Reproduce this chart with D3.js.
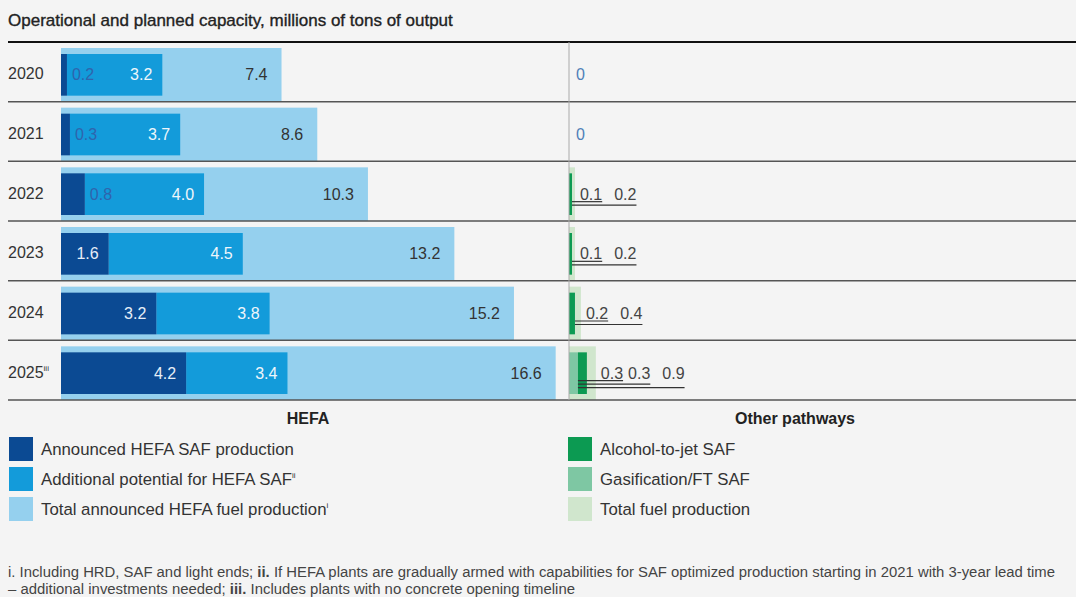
<!DOCTYPE html>
<html>
<head>
<meta charset="utf-8">
<script src="https://cdn.jsdelivr.net/npm/d3@7"></script>
<style>
  html, body { margin: 0; padding: 0; background: #f4f4f4; }
  svg { display: block; font-family: "Liberation Sans", Arial, sans-serif; }
</style>
</head>
<body>
<div id="chart"></div>
<script>
// Data
const years = ['2020', '2021', '2022', '2023', '2024', '2025'];
const yearNotes = ['', '', '', '', '', 'iii'];
const announcedSaf = [0.2, 0.3, 0.8, 1.6, 3.2, 4.2];
const additionalSaf = [3.2, 3.7, 4.0, 4.5, 3.8, 3.4];
const totalHefa = [7.4, 8.6, 10.3, 13.2, 15.2, 16.6];
const gasificationFt = [0, 0, 0, 0, 0, 0.3];
const alcoholToJet = [0, 0, 0.1, 0.1, 0.2, 0.3];
const totalOther = [0, 0, 0.2, 0.2, 0.4, 0.9];

const hefaLegend = [
    { label: 'Announced HEFA SAF production', note: '' },
    { label: 'Additional potential for HEFA SAF', note: 'ii' },
    { label: 'Total announced HEFA fuel production', note: 'i' }
];
const otherLegend = [
    { label: 'Alcohol-to-jet SAF', note: '' },
    { label: 'Gasification/FT SAF', note: '' },
    { label: 'Total fuel production', note: '' }
];

const colors = {
    dark: '#0b4a93', mid: '#139bda', light: '#95d0ee',
    green: '#0c9a52', greenMid: '#7ec7a3', greenPale: '#d0e6cd'
};

const W = 1076, H = 597;
const svg = d3.select('#chart').append('svg')
    .attr('width', W)
    .attr('height', H);

svg.append('rect').attr('width', W).attr('height', H).attr('fill', '#f4f4f4');

// Title
svg.append('text')
    .attr('x', 8).attr('y', 26)
    .attr('font-size', 17)
    .attr('fill', '#222')
    .attr('stroke', '#222').attr('stroke-width', 0.35)
    .text('Operational and planned capacity, millions of tons of output');

const rows = years.map((y, i) => ({
    year: y, note: yearNotes[i],
    announced: announcedSaf[i], additional: additionalSaf[i], total: totalHefa[i],
    gas: gasificationFt[i], alcohol: alcoholToJet[i], other: totalOther[i]
}));

const yScale = d3.scaleBand().domain(years).range([42, 400]);
const xHefa = d3.scaleLinear().domain([0, 17]).range([61, 61 + 17 * 29.8]);
const xOther = d3.scaleLinear().domain([0, 1]).range([569, 569 + 29.8]);

const g = svg.append('g');

const row = g.selectAll('.row')
    .data(rows)
    .join('g')
    .attr('class', 'row')
    .attr('transform', d => `translate(0,${yScale(d.year)})`);

const step = yScale.bandwidth();
const outerTop = 6, innerTop = 12, innerH = step - 18;
const labelY = innerTop + innerH / 2 + 5.5;
const fs = 16;

// HEFA bars
row.append('rect')
    .attr('x', xHefa(0)).attr('y', outerTop)
    .attr('width', d => xHefa(d.total) - xHefa(0))
    .attr('height', step - outerTop)
    .attr('fill', colors.light);

row.append('rect')
    .attr('x', d => xHefa(d.announced)).attr('y', innerTop)
    .attr('width', d => xHefa(d.additional) - xHefa(0))
    .attr('height', innerH)
    .attr('fill', colors.mid);

row.append('rect')
    .attr('x', xHefa(0)).attr('y', innerTop)
    .attr('width', d => xHefa(d.announced) - xHefa(0))
    .attr('height', innerH)
    .attr('fill', colors.dark);

// HEFA labels
row.append('text')
    .attr('font-size', fs)
    .attr('y', labelY)
    .each(function(d) {
        const w = xHefa(d.announced) - xHefa(0);
        const t = d3.select(this).text(d.announced.toFixed(1));
        if (w > 40) {
            t.attr('x', xHefa(d.announced) - 10).attr('text-anchor', 'end').attr('fill', '#e6eef7');
        } else {
            t.attr('x', xHefa(d.announced) + 5).attr('fill', '#2f64ad');
        }
    });

row.append('text')
    .attr('font-size', fs)
    .attr('y', labelY)
    .attr('x', d => xHefa(d.announced + d.additional) - 10)
    .attr('text-anchor', 'end')
    .attr('fill', '#eef6fb')
    .text(d => d.additional.toFixed(1));

row.append('text')
    .attr('font-size', fs)
    .attr('y', labelY)
    .attr('x', d => xHefa(d.total) - 14)
    .attr('text-anchor', 'end')
    .attr('fill', '#333')
    .text(d => d.total.toFixed(1));

// Year labels
const yl = row.append('text')
    .attr('x', 8).attr('y', labelY - 1)
    .attr('font-size', fs)
    .attr('fill', '#333')
    .text(d => d.year);
yl.append('tspan')
    .attr('font-size', 8).attr('dy', -7)
    .text(d => d.note);

// Other pathway bars
row.append('rect')
    .attr('x', xOther(0)).attr('y', outerTop)
    .attr('width', d => xOther(d.other) - xOther(0))
    .attr('height', step - outerTop)
    .attr('fill', colors.greenPale);

row.append('rect')
    .attr('x', xOther(0)).attr('y', innerTop)
    .attr('width', d => xOther(d.gas) - xOther(0))
    .attr('height', innerH)
    .attr('fill', colors.greenMid);

row.append('rect')
    .attr('x', d => xOther(d.gas)).attr('y', innerTop)
    .attr('width', d => xOther(d.alcohol) - xOther(0))
    .attr('height', innerH)
    .attr('fill', colors.green);

// Other pathway labels with underline leaders
row.each(function(d) {
    const r = d3.select(this);
    if (d.other === 0) {
        r.append('text')
            .attr('x', xOther(0) + 7).attr('y', labelY)
            .attr('font-size', fs).attr('fill', '#4f7fb8')
            .text('0');
        return;
    }
    const vals = [d.gas, d.alcohol, d.other].filter(v => v > 0);
    const firstEnd = xOther(d.gas > 0 ? d.gas : d.alcohol);
    let x = xOther(d.other) + 5;
    vals.forEach((v, i) => {
        const t = r.append('text')
            .attr('x', x).attr('y', labelY)
            .attr('font-size', fs).attr('fill', '#444')
            .text(v.toFixed(1));
        const w = t.node().getComputedTextLength();
        const ly = labelY + 2 + i * 3.5;
        r.append('line')
            .attr('x1', firstEnd).attr('x2', x + w)
            .attr('y1', ly).attr('y2', ly)
            .attr('stroke', '#333').attr('stroke-width', 1.2);
        x += w + (vals.length === 3 && i === 0 ? 5 : 12);
    });
});

// Gridlines
g.append('line')
    .attr('x1', 8).attr('x2', W).attr('y1', 42).attr('y2', 42)
    .attr('stroke', '#111').attr('stroke-width', 2);

g.selectAll('.sep')
    .data(years)
    .join('line')
    .attr('class', 'sep')
    .attr('x1', 8).attr('x2', W)
    .attr('y1', d => yScale(d) + step).attr('y2', d => yScale(d) + step)
    .attr('stroke', '#555').attr('stroke-width', 1.5);

g.append('line')
    .attr('x1', 569).attr('x2', 569).attr('y1', 42).attr('y2', 400)
    .attr('stroke', '#aaa').attr('stroke-width', 1);

// Panel titles
svg.append('text')
    .attr('x', 308).attr('y', 424)
    .attr('text-anchor', 'middle').attr('font-size', 16).attr('font-weight', 'bold')
    .attr('fill', '#222')
    .text('HEFA');
svg.append('text')
    .attr('x', 795).attr('y', 424)
    .attr('text-anchor', 'middle').attr('font-size', 16).attr('font-weight', 'bold')
    .attr('fill', '#222')
    .text('Other pathways');

// Legends
function legend(items, cols, x0) {
    const lg = svg.append('g').selectAll('g')
        .data(items)
        .join('g')
        .attr('transform', (d, i) => `translate(${x0},${437 + i * 30})`);
    lg.append('rect')
        .attr('width', 24).attr('height', 24)
        .attr('fill', (d, i) => cols[i]);
    const t = lg.append('text')
        .attr('x', 32).attr('y', 18)
        .attr('font-size', 16.8).attr('fill', '#333')
        .text(d => d.label);
    t.append('tspan').attr('font-size', 8).attr('dy', -7).text(d => d.note);
}
legend(hefaLegend, [colors.dark, colors.mid, colors.light], 9);
legend(otherLegend, [colors.green, colors.greenMid, colors.greenPale], 568);

// Footnotes
const f1 = svg.append('text')
    .attr('x', 8).attr('y', 577)
    .attr('font-family', '"Liberation Sans Narrow", "Liberation Sans", sans-serif')
    .attr('font-size', 14).attr('fill', '#444')
    .attr('textLength', 1047).attr('lengthAdjust', 'spacingAndGlyphs');
f1.append('tspan').text('i. Including HRD, SAF and light ends;  ');
f1.append('tspan').attr('font-weight', 'bold').text('ii.');
f1.append('tspan').text(' If HEFA plants are gradually armed with capabilities for SAF optimized production starting in 2021 with 3-year lead time');

const f2 = svg.append('text')
    .attr('x', 8).attr('y', 594)
    .attr('font-family', '"Liberation Sans Narrow", "Liberation Sans", sans-serif')
    .attr('font-size', 14).attr('fill', '#444')
    .attr('textLength', 567).attr('lengthAdjust', 'spacingAndGlyphs');
f2.append('tspan').text('– additional investments needed;  ');
f2.append('tspan').attr('font-weight', 'bold').text('iii.');
f2.append('tspan').text(' Includes plants with no concrete opening timeline');
</script>
</body>
</html>
